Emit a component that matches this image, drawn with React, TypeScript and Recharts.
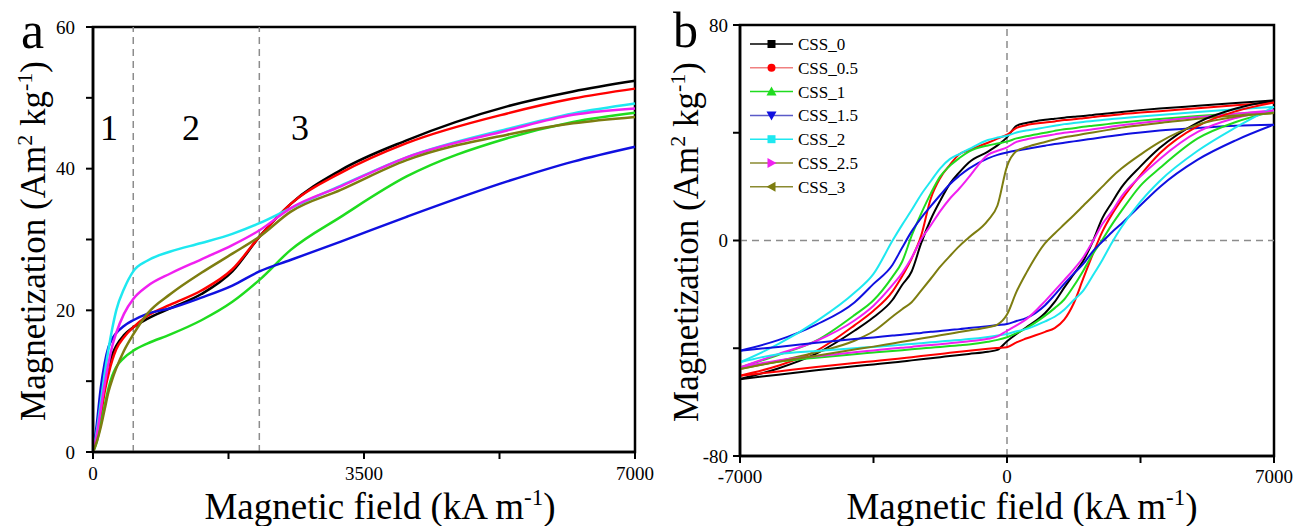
import React from "react";
import { LineChart, Line, XAxis, YAxis, ReferenceLine, ReferenceArea } from "recharts";

const FONT = "'Liberation Serif', 'Times New Roman', serif";

// panel a: initial magnetization curves (field in kA/m, M in Am2/kg)
const FIELD_A = [0, 50, 100, 150, 200, 250, 300, 400, 520, 700, 1000, 1400, 1800, 2150, 2550, 3200, 4050, 5350, 6200, 7000];
const A_CSS_0 = [0, 2.5, 6, 9.5, 12, 13.8, 15, 16.5, 17.6, 18.8, 20.3, 22.3, 25.5, 30.4, 35.0, 39.8, 44.0, 48.8, 50.9, 52.4];
const A_CSS_05 = [0, 2, 5, 8.5, 11, 13, 14.5, 16.2, 17.6, 19.2, 20.8, 22.8, 25.8, 30.4, 35.0, 39.4, 43.6, 47.8, 49.9, 51.3];
const A_CSS_1 = [0, 1.5, 4, 6.5, 9, 10.8, 12, 13.3, 14.3, 15.3, 16.6, 18.6, 21.2, 24.3, 28.5, 33.2, 38.9, 44.3, 46.6, 47.9];
const A_CSS_15 = [0, 4, 9, 12.5, 14.8, 16, 16.8, 17.8, 18.6, 19.5, 20.3, 21.8, 23.5, 25.5, 27.1, 29.7, 33.2, 38.2, 41.0, 43.1];
const A_CSS_2 = [0, 3, 7, 11, 14.5, 17.5, 20, 23, 25.5, 27, 28.3, 29.5, 30.8, 32.3, 34.4, 37.6, 41.6, 45.6, 47.8, 49.2];
const A_CSS_25 = [0, 2.5, 6, 9.5, 12.5, 15, 16.8, 19.5, 21.6, 23.4, 25.2, 27.2, 29.2, 31.3, 34.4, 37.5, 41.6, 45.4, 47.6, 48.5];
const A_CSS_3 = [0, 1.5, 3.5, 6, 8.5, 10.3, 11.8, 14.3, 16.6, 19.5, 22.3, 25.3, 28.0, 30.4, 33.9, 37.0, 41.2, 44.8, 46.4, 47.3];

// panel b: hysteresis loops, UP = descending branch, LO = ascending branch
const FIELD_B = [-7000, -6000, -5000, -4000, -3500, -3000, -2750, -2500, -2250, -2000, -1750, -1500, -1250, -1000, -500, -250, 0,
  250, 500, 1000, 1250, 1500, 1750, 2000, 2250, 2500, 2750, 3000, 3500, 4000, 5000, 6000, 7000];
const B_CSS_0_UP = [-51.4, -47.5, -42.0, -33.5, -28.5, -22.0, -16.5, -11.5, -1.0, 7.8, 14.8, 21.0, 25.3, 29.0, 33.0, 35.3, 38.3,
  42.6, 43.6, 44.8, 45.2, 45.6, 45.9, 46.2, 46.6, 47.0, 47.3, 47.7, 48.4, 49.0, 50.0, 51.0, 52.0];
const B_CSS_0_LO = [-51.5, -49.8, -48.2, -46.7, -46.0, -45.3, -44.9, -44.5, -44.1, -43.7, -43.3, -42.9, -42.5, -42.1, -41.3, -40.6, -37.4,
  -34.7, -32.3, -26.9, -22.8, -17.5, -12.5, -7.5, -0.3, 8.3, 14.1, 19.7, 27.5, 34.3, 43.8, 49.0, 52.0];
const B_CSS_05_UP = [-50.2, -46.5, -41.0, -31.5, -26.1, -18.9, -13.3, -6.7, 1.8, 15.5, 23.2, 28.0, 32.0, 33.5, 36.3, 37.8, 39.3,
  41.8, 42.8, 43.8, 44.2, 44.7, 45.0, 45.4, 45.8, 46.2, 46.5, 46.9, 47.5, 48.0, 49.1, 50.2, 51.2];
const B_CSS_05_LO = [-50.2, -48.6, -47.0, -45.5, -44.8, -44.1, -43.7, -43.3, -42.9, -42.5, -42.1, -41.7, -41.3, -40.9, -40.2, -39.9, -39.6,
  -37.8, -36.4, -33.9, -32.5, -29.4, -23.3, -14.1, -5.1, 3.3, 9.7, 15.1, 24.3, 32.3, 42.5, 48.0, 51.2];
const B_CSS_1_UP = [-47.1, -42.5, -37.2, -27.7, -22.2, -13.4, -7.9, 1.8, 10.0, 17.4, 23.8, 27.7, 30.6, 33.0, 35.3, 36.0, 36.7,
  37.9, 38.7, 40.0, 40.7, 41.3, 41.7, 42.2, 42.6, 43.0, 43.4, 43.8, 44.5, 45.1, 46.2, 47.1, 48.0];
const B_CSS_1_LO = [-47.1, -45.0, -43.5, -42.2, -41.6, -41.0, -40.7, -40.4, -40.1, -39.8, -39.5, -39.2, -38.9, -38.6, -37.6, -36.9, -35.9,
  -34.4, -32.6, -27.9, -25.1, -21.9, -16.9, -11.2, -5.0, 0.3, 5.9, 11.0, 20.4, 26.8, 37.9, 44.0, 48.0];
const B_CSS_15_UP = [-40.9, -37.0, -31.2, -23.0, -16.1, -9.0, -2.7, 3.4, 8.4, 12.7, 16.9, 20.9, 24.0, 26.7, 30.5, 31.8, 32.7,
  33.4, 34.0, 35.2, 35.8, 36.3, 36.8, 37.3, 37.8, 38.3, 38.8, 39.3, 40.1, 40.8, 41.8, 42.6, 43.0];
const B_CSS_15_LO = [-40.9, -39.5, -38.0, -36.6, -36.0, -35.3, -35.0, -34.6, -34.3, -33.9, -33.6, -33.2, -32.9, -32.5, -31.8, -31.4, -31.0,
  -29.9, -28.8, -24.0, -20.2, -16.1, -12.3, -8.7, -4.0, -0.4, 3.1, 6.2, 13.1, 19.8, 30.0, 37.2, 43.0];
const B_CSS_2_UP = [-45.2, -38.5, -30.0, -19.4, -12.4, 0.0, 5.8, 11.3, 17.1, 22.0, 26.8, 30.2, 32.1, 33.9, 37.3, 38.2, 38.9,
  40.1, 40.8, 42.0, 42.6, 43.2, 43.6, 44.0, 44.4, 44.7, 45.1, 45.4, 46.0, 46.6, 47.7, 48.7, 49.6];
const B_CSS_2_LO = [-45.2, -42.2, -41.0, -40.0, -39.5, -39.0, -38.7, -38.4, -38.1, -37.8, -37.5, -37.2, -36.9, -36.6, -35.8, -35.3, -34.7,
  -33.7, -32.9, -30.0, -28.3, -25.7, -22.1, -18.6, -13.0, -7.2, -0.8, 4.9, 14.4, 22.0, 33.3, 42.0, 49.6];
const B_CSS_25_UP = [-47.1, -42.2, -37.3, -29.7, -24.2, -16.5, -12.1, -6.4, 0.5, 5.6, 10.9, 15.5, 19.3, 23.5, 31.8, 33.3, 34.6,
  36.6, 37.5, 38.8, 39.4, 40.0, 40.4, 40.8, 41.3, 41.8, 42.3, 42.8, 43.6, 44.4, 45.8, 47.1, 48.3];
const B_CSS_25_LO = [-47.1, -44.5, -43.0, -41.5, -40.8, -40.1, -39.8, -39.5, -39.1, -38.8, -38.5, -38.1, -37.8, -37.4, -36.5, -35.6, -33.5,
  -31.5, -29.3, -22.5, -18.6, -14.7, -10.7, -6.2, -0.3, 6.1, 10.8, 16.3, 23.8, 30.2, 40.3, 45.5, 48.3];
const B_CSS_3_UP = [-47.7, -44.8, -41.5, -37.2, -33.7, -28.2, -25.5, -22.9, -18.6, -14.2, -9.7, -5.8, -2.1, 1.1, 7.5, 13.0, 27.5,
  33.2, 34.6, 36.6, 37.5, 38.3, 38.9, 39.5, 40.1, 40.7, 41.3, 41.9, 42.8, 43.6, 45.2, 46.4, 47.3];
const B_CSS_3_LO = [-47.7, -45.0, -42.8, -40.5, -39.4, -38.2, -37.6, -37.0, -36.4, -35.8, -35.2, -34.6, -34.0, -33.4, -32.2, -31.2, -27.5,
  -19.0, -12.2, -1.0, 2.6, 6.0, 9.4, 12.9, 16.4, 20.0, 23.6, 26.7, 31.9, 36.5, 43.0, 46.0, 47.3];

const SAMPLES = [
  { name: "CSS_0", color: "#000000", legendLine: "#000000", marker: "square", a: A_CSS_0, up: B_CSS_0_UP, lo: B_CSS_0_LO },
  { name: "CSS_0.5", color: "#ff0000", legendLine: "#f08080", marker: "circle", a: A_CSS_05, up: B_CSS_05_UP, lo: B_CSS_05_LO },
  { name: "CSS_1", color: "#1fdc1f", legendLine: "#1fdc1f", marker: "up", a: A_CSS_1, up: B_CSS_1_UP, lo: B_CSS_1_LO },
  { name: "CSS_1.5", color: "#1010e0", legendLine: "#5a5ac8", marker: "down", a: A_CSS_15, up: B_CSS_15_UP, lo: B_CSS_15_LO },
  { name: "CSS_2", color: "#1ee8f0", legendLine: "#1ee8f0", marker: "square", a: A_CSS_2, up: B_CSS_2_UP, lo: B_CSS_2_LO },
  { name: "CSS_2.5", color: "#f020f0", legendLine: "#8a8a30", marker: "right", a: A_CSS_25, up: B_CSS_25_UP, lo: B_CSS_25_LO },
  { name: "CSS_3", color: "#7d7d10", legendLine: "#8a8a30", marker: "left", a: A_CSS_3, up: B_CSS_3_UP, lo: B_CSS_3_LO },
];

const rowsA = FIELD_A.map((h, i) => {
  const row: Record<string, number> = { h };
  SAMPLES.forEach((s, k) => { row["s" + k] = s.a[i]; });
  return row;
});

const rowsB = FIELD_B.map((h, i) => {
  const row: Record<string, number> = { h };
  SAMPLES.forEach((s, k) => {
    row["u" + k] = s.up[i];
    row["l" + k] = s.lo[i];
  });
  return row;
});

const tickStyle = { fill: "#000", fontSize: 19, fontFamily: FONT };
const axisLine = { stroke: "#000", strokeWidth: 2.5 };
const tickLine = { stroke: "#000", strokeWidth: 2 };

function Marker({ kind, x, y, color }: { kind: string; x: number; y: number; color: string }) {
  const r = 4;
  if (kind === "square") return <rect x={x - r} y={y - r} width={2 * r} height={2 * r} fill={color} />;
  if (kind === "circle") return <circle cx={x} cy={y} r={r} fill={color} />;
  if (kind === "up") return <polygon points={`${x},${y - r - 1} ${x - r - 1},${y + r} ${x + r + 1},${y + r}`} fill={color} />;
  if (kind === "down") return <polygon points={`${x},${y + r + 1} ${x - r - 1},${y - r} ${x + r + 1},${y - r}`} fill={color} />;
  if (kind === "right") return <polygon points={`${x + r + 1},${y} ${x - r},${y - r - 1} ${x - r},${y + r + 1}`} fill={color} />;
  return <polygon points={`${x - r - 1},${y} ${x + r},${y - r - 1} ${x + r},${y + r + 1}`} fill={color} />;
}

function Unit() {
  return (
    <>
      <tspan dy={-13} fontSize={22}>2</tspan>
      <tspan dy={13}> kg</tspan>
      <tspan dy={-13} fontSize={22}>-1</tspan>
      <tspan dy={13}>)</tspan>
    </>
  );
}

export default function App() {
  return (
    <div style={{ position: "absolute", left: 0, top: 0, width: 1298, height: 526, background: "#fff", fontFamily: FONT }}>
      <div style={{ position: "absolute", left: 0, top: 0 }}>
        <LineChart width={660} height={526} data={rowsA} margin={{ top: 27, right: 25, bottom: 0, left: 0 }}>
          <XAxis dataKey="h" type="number" domain={[0, 7000]} ticks={[0, 1750, 3500, 5250, 7000]}
            tickFormatter={(v: number) => (v % 3500 === 0 ? String(v) : "")}
            axisLine={axisLine} tickLine={tickLine} tick={tickStyle} height={74} tickSize={7} tickMargin={8} />
          <YAxis type="number" domain={[0, 60]} ticks={[0, 10, 20, 30, 40, 50, 60]}
            tickFormatter={(v: number) => (v % 20 === 0 ? String(v) : "")}
            axisLine={axisLine} tickLine={tickLine} tick={tickStyle} width={93} tickSize={7} tickMargin={11} />
          <ReferenceLine x={520} stroke="#8c8c8c" strokeDasharray="7 5" strokeWidth={1.5} />
          <ReferenceLine x={2148} stroke="#8c8c8c" strokeDasharray="7 5" strokeWidth={1.5} />
          {SAMPLES.map((s, k) => (
            <Line key={s.name} type="monotone" dataKey={"s" + k} stroke={s.color} strokeWidth={2.5}
              dot={false} isAnimationActive={false} />
          ))}
          <ReferenceArea x1={0} x2={7000} y1={0} y2={60} fill="none" stroke="#000" strokeWidth={2.5} ifOverflow="visible" />
        </LineChart>
      </div>
      <div style={{ position: "absolute", left: 650, top: 0 }}>
        <LineChart width={648} height={526} data={rowsB} margin={{ top: 25, right: 24, bottom: 0, left: 0 }}>
          <XAxis dataKey="h" type="number" domain={[-7000, 7000]} ticks={[-7000, -3500, 0, 3500, 7000]}
            tickFormatter={(v: number) => (v % 7000 === 0 ? String(v) : "")}
            axisLine={axisLine} tickLine={tickLine} tick={tickStyle} height={70} tickSize={7} tickMargin={7} />
          <YAxis type="number" domain={[-80, 80]} ticks={[-80, -40, 0, 40, 80]}
            tickFormatter={(v: number) => (v % 80 === 0 ? String(v) : "")}
            axisLine={axisLine} tickLine={tickLine} tick={tickStyle} width={90} tickSize={7} tickMargin={5} />
          <ReferenceLine x={0} stroke="#8c8c8c" strokeDasharray="7 5" strokeWidth={1.5} />
          <ReferenceLine y={0} stroke="#8c8c8c" strokeDasharray="7 5" strokeWidth={1.5} />
          {SAMPLES.map((s, k) => (
            <Line key={s.name + "u"} type="monotone" dataKey={"u" + k} stroke={s.color} strokeWidth={2}
              dot={false} isAnimationActive={false} />
          ))}
          {SAMPLES.map((s, k) => (
            <Line key={s.name + "l"} type="monotone" dataKey={"l" + k} stroke={s.color} strokeWidth={2}
              dot={false} isAnimationActive={false} />
          ))}
          <ReferenceArea x1={-7000} x2={7000} y1={-80} y2={80} fill="none" stroke="#000" strokeWidth={2.5} ifOverflow="visible" />
        </LineChart>
      </div>
      <svg width={1298} height={526} style={{ position: "absolute", left: 0, top: 0, pointerEvents: "none" }}
        fontFamily={FONT} fill="#000">
        <text x={21} y={48} fontSize={52}>a</text>
        <text x={673} y={47} fontSize={50}>b</text>

        <text x={109} y={140} fontSize={36} textAnchor="middle">1</text>
        <text x={191} y={140} fontSize={36} textAnchor="middle">2</text>
        <text x={300} y={140} fontSize={36} textAnchor="middle">3</text>

        <text transform="translate(45 241) rotate(-90)" textAnchor="middle" fontSize={35}>
          Magnetization (Am<Unit />
        </text>
        <text transform="translate(698 242) rotate(-90)" textAnchor="middle" fontSize={35}>
          Magnetization (Am<Unit />
        </text>
        <text x={380} y={519} textAnchor="middle" fontSize={37}>
          Magnetic field (kA m<tspan dy={-14} fontSize={23}>-1</tspan><tspan dy={14}>)</tspan>
        </text>
        <text x={1022} y={519} textAnchor="middle" fontSize={37}>
          Magnetic field (kA m<tspan dy={-14} fontSize={23}>-1</tspan><tspan dy={14}>)</tspan>
        </text>

        {SAMPLES.map((s, k) => {
          const y = 44 + k * 23.8;
          return (
            <g key={s.name}>
              <line x1={750} x2={793} y1={y} y2={y} stroke={s.legendLine} strokeWidth={1.5} />
              <Marker kind={s.marker} x={771.5} y={y} color={s.color} />
              <text x={798} y={y + 6} fontSize={17}>{s.name}</text>
            </g>
          );
        })}
      </svg>
    </div>
  );
}
